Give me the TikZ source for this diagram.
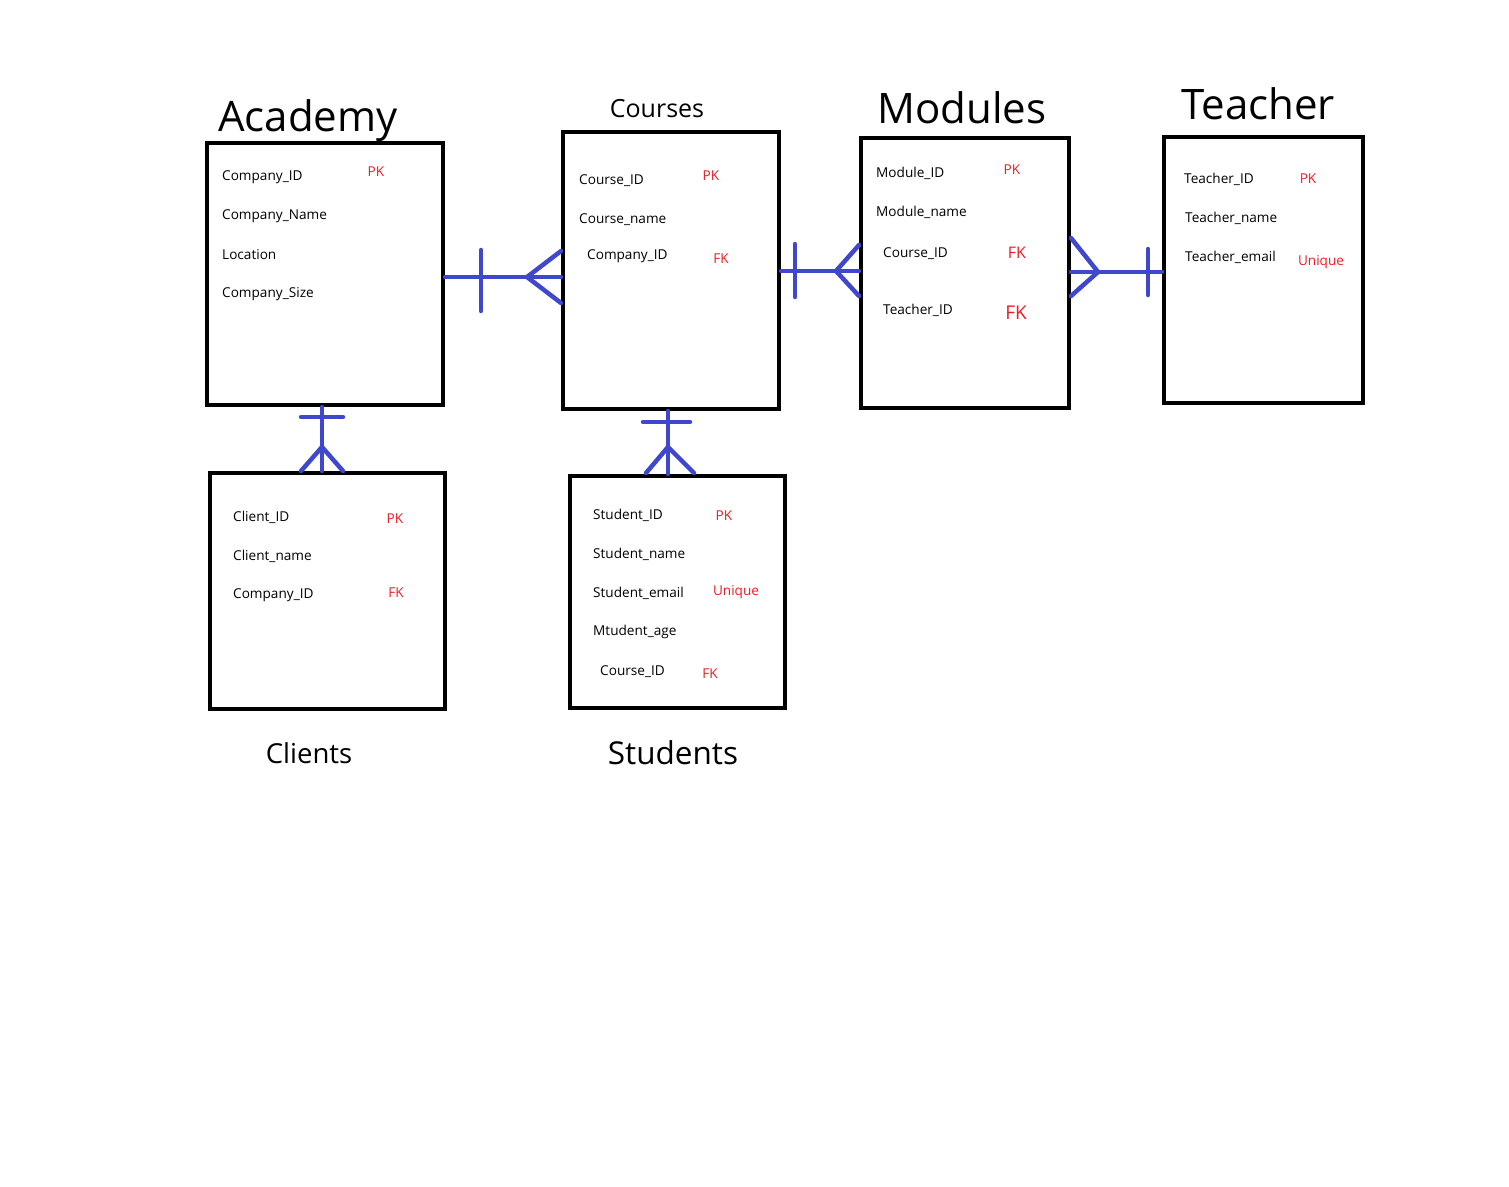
\documentclass[tikz,border=0pt]{standalone}
\usepackage{fontspec}
\setmainfont{Open Sans}
\definecolor{pblue}{RGB}{63,72,204}
\definecolor{pred}{RGB}{237,28,36}
\begin{document}
\begin{tikzpicture}[x=1pt,y=-1pt,
  tbl/.style={draw=black,line width=4pt,inner sep=0pt,anchor=center},
  fld/.style={anchor=west,inner sep=0pt,yshift=-2pt,font=\fontsize{13.6}{15}\selectfont},
  key/.style={anchor=center,inner sep=0pt,yshift=-1pt,text=pred,font=\fontsize{13.6}{15}\selectfont},
  bigtitle/.style={anchor=center,inner sep=0pt,font=\fontsize{42}{48}\selectfont},
  rel/.style={draw=pblue,line width=4.5pt,line cap=round}]
\useasboundingbox (0,0) rectangle (1509,1186);
% tables
\node[tbl,minimum width=236pt,minimum height=262pt] (academy) at (325,274) {};
\node[tbl,minimum width=216pt,minimum height=277pt] (courses) at (671,270.5) {};
\node[tbl,minimum width=208pt,minimum height=270pt] (modules) at (965,273) {};
\node[tbl,minimum width=199pt,minimum height=266pt] (teacher) at (1263.5,270) {};
\node[tbl,minimum width=235pt,minimum height=236pt] (clients) at (327.5,591) {};
\node[tbl,minimum width=215pt,minimum height=232pt] (students) at (677.5,592) {};
% titles
\node[bigtitle] (tAcademy) at (308,121) {Academy};
\node[anchor=center,inner sep=0pt,font=\fontsize{25}{30}\selectfont] (tCourses) at (657,109) {Courses};
\node[bigtitle] (tModules) at (962,108) {Modules};
\node[bigtitle] (tTeacher) at (1258,104) {Teacher};
\node[anchor=center,inner sep=0pt,font=\fontsize{27.5}{32}\selectfont] (tClients) at (309,753) {Clients};
\node[anchor=center,inner sep=0pt,font=\fontsize{31.5}{36}\selectfont] (tStudents) at (673,753) {Students};
% Academy fields
\node[fld] (a1) at (222,175) {Company\_ID};
\node[fld] (a2) at (222,214) {Company\_Name};
\node[fld] (a3) at (222,253) {Location};
\node[fld] (a4) at (222,292) {Company\_Size};
\node[key] (a1k) at (376,171) {PK};
% Courses fields
\node[fld] (c1) at (579,179) {Course\_ID};
\node[fld] (c2) at (579,218) {Course\_name};
\node[fld] (c3) at (587,254) {Company\_ID};
\node[key] (c1k) at (711,175) {PK};
\node[key] (c3k) at (721,258) {FK};
% Modules fields
\node[fld] (m1) at (876,171) {Module\_ID};
\node[fld] (m2) at (876,210) {Module\_name};
\node[fld] (m3) at (883,252) {Course\_ID};
\node[fld] (m4) at (883,308) {Teacher\_ID};
\node[key] (m1k) at (1012,169) {PK};
\node[key,font=\fontsize{16}{18}\selectfont] (m3k) at (1017,252) {FK};
\node[key,font=\fontsize{19}{22}\selectfont] (m4k) at (1016,312) {FK};
% Teacher fields
\node[fld] (e1) at (1184,177) {Teacher\_ID};
\node[fld] (e2) at (1185,216) {Teacher\_name};
\node[fld] (e3) at (1185,255) {Teacher\_email};
\node[key] (e1k) at (1308,178) {PK};
\node[key] (e3k) at (1321,261) {Unique};
% Clients fields
\node[fld] (l1) at (233,515) {Client\_ID};
\node[fld] (l2) at (233,554) {Client\_name};
\node[fld] (l3) at (233,593) {Company\_ID};
\node[key] (l1k) at (395,518) {PK};
\node[key] (l3k) at (396,592) {FK};
% Students fields
\node[fld] (s1) at (593,513) {Student\_ID};
\node[fld] (s2) at (593,552) {Student\_name};
\node[fld] (s3) at (593,591) {Student\_email};
\node[fld] (s4) at (593,630) {Mtudent\_age};
\node[fld] (s5) at (600,670) {Course\_ID};
\node[key] (s1k) at (724,515) {PK};
\node[key] (s3k) at (736,591) {Unique};
\node[key] (s5k) at (710,673) {FK};
% relationships
% Academy -- Courses
\coordinate (r1a) at (academy.east |- 0,277);
\coordinate (r1b) at (courses.west |- 0,277);
\coordinate (r1f) at (527,277);
\draw[rel] (r1a) -- (r1b);
\draw[rel] (481,250) -- (481,311);
\draw[rel] (courses.west |- 0,251) -- (r1f) -- (courses.west |- 0,303);
% Courses -- Modules
\coordinate (r2a) at (courses.east |- 0,271);
\coordinate (r2b) at (modules.west |- 0,271);
\coordinate (r2f) at (836,271);
\draw[rel] (r2a) -- (r2b);
\draw[rel] (795,244) -- (795,297);
\draw[rel] (modules.west |- 0,245) -- (r2f) -- (modules.west |- 0,296);
% Modules -- Teacher
\coordinate (r3a) at (modules.east |- 0,272);
\coordinate (r3b) at (teacher.west |- 0,272);
\coordinate (r3f) at (1098,272);
\draw[rel] (r3a) -- (r3b);
\draw[rel] (1148,249) -- (1148,295);
\draw[rel] (modules.east |- 0,238) -- (r3f) -- (modules.east |- 0,296);
% Academy -- Clients
\coordinate (r4a) at (academy.south -| 322,0);
\coordinate (r4b) at (clients.north -| 322,0);
\coordinate (r4f) at (322,447);
\draw[rel] (r4a) -- (r4b);
\draw[rel] (301,417) -- (343,417);
\draw[rel] (301,471) -- (r4f) -- (343,471);
% Courses -- Students
\coordinate (r5a) at (courses.south -| 668,0);
\coordinate (r5b) at (students.north -| 668,0);
\coordinate (r5f) at (668,447);
\draw[rel] (r5a) -- (r5b);
\draw[rel] (643,422) -- (690,422);
\draw[rel] (646,473) -- (r5f) -- (694,473);
\end{tikzpicture}
\end{document}
